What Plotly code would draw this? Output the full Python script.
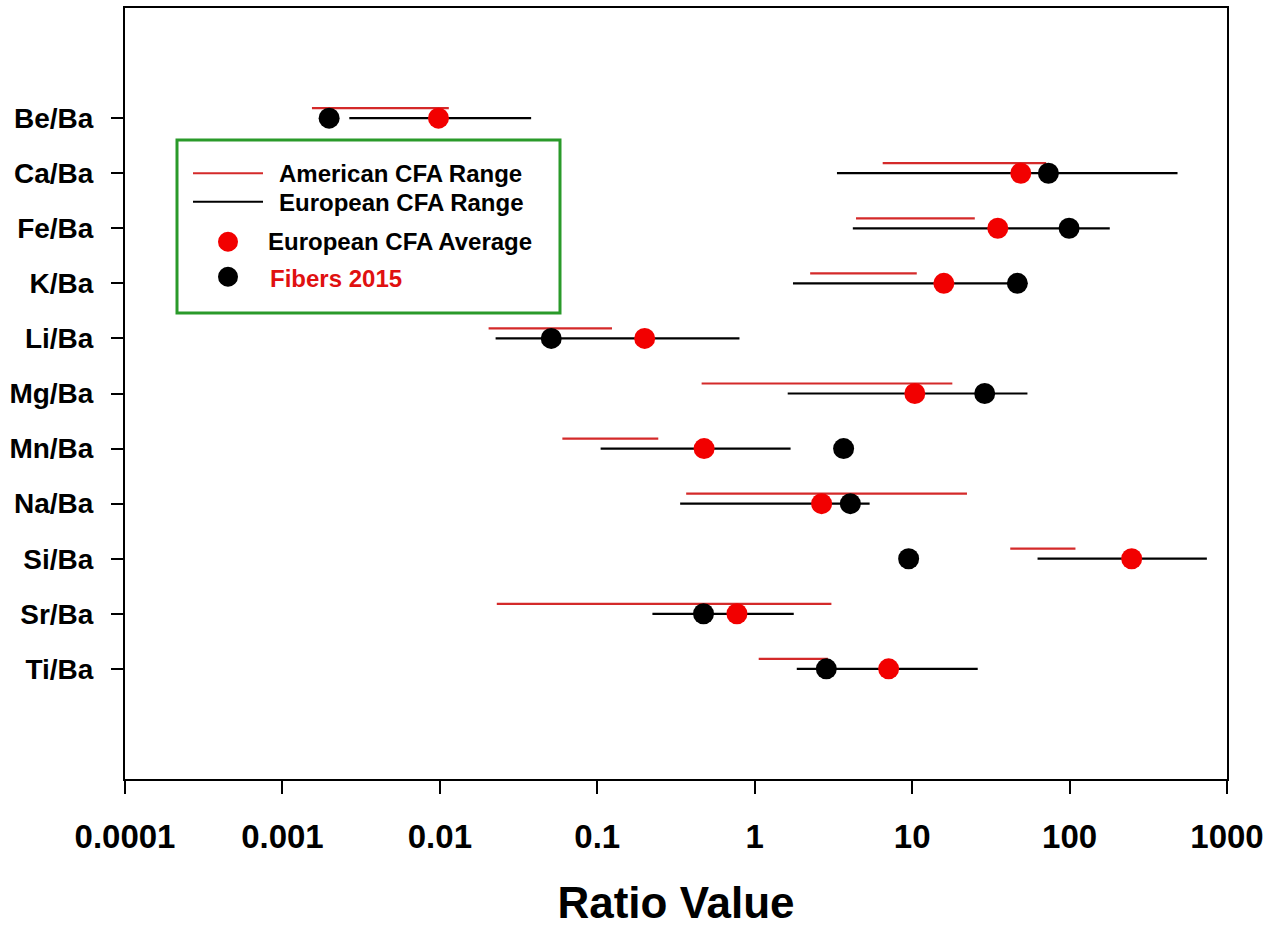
import plotly.graph_objects as go

# ---------------- data ----------------
categories = ["Be/Ba", "Ca/Ba", "Fe/Ba", "K/Ba", "Li/Ba", "Mg/Ba",
              "Mn/Ba", "Na/Ba", "Si/Ba", "Sr/Ba", "Ti/Ba"]

american_min = [0.00154, 6.5, 4.4, 2.25, 0.0204, 0.46, 0.060, 0.367, 42.0, 0.023, 1.06]
american_max = [0.0114, 71.0, 25.0, 10.7, 0.124, 18.0, 0.244, 22.3, 109.0, 3.07, 2.92]
european_min = [0.00266, 3.33, 4.2, 1.75, 0.0226, 1.62, 0.105, 0.336, 62.6, 0.224, 1.85]
european_max = [0.038, 485.0, 180.0, 46.6, 0.80, 54.0, 1.69, 5.37, 745.0, 1.77, 26.1]
european_avg = [0.0098, 49.0, 35.0, 15.9, 0.20, 10.4, 0.477, 2.66, 248.0, 0.771, 7.09]
fibers_2015 = [0.00198, 73.4, 99.3, 46.6, 0.051, 28.9, 3.67, 4.05, 9.5, 0.473, 2.85]

x_tick_values = [0.0001, 0.001, 0.01, 0.1, 1, 10, 100, 1000]
x_tick_labels = ["0.0001", "0.001", "0.01", "0.1", "1", "10", "100", "1000"]

legend_labels = ["American CFA Range", "European CFA Range",
                 "European CFA Average", "Fibers 2015"]

# ---------------- layout constants ----------------
W, H = 1277, 927
L, R, T, B = 125, 50, 8, 148
PW, PH = W - L - R, H - T - B
FONT = "Liberation Sans, Arial, sans-serif"
RED_LINE = "#d42a2a"
RED_DOT = "#f20000"
GREEN = "#2a9a2a"

ypos = [i + 2 for i in range(len(categories))]
red_offset = 10 / (PH / 14.0)  # American range drawn 10 px above category


def seg(lo, hi, ys, dy=0.0):
    xs, yy = [], []
    for a, b, y in zip(lo, hi, ys):
        xs += [a, b, None]
        yy += [y - dy, y - dy, None]
    return xs, yy


fig = go.Figure()

ax, ay = seg(american_min, american_max, ypos, red_offset)
fig.add_trace(go.Scatter(x=ax, y=ay, mode="lines", name=legend_labels[0],
                         line=dict(color=RED_LINE, width=2.2), showlegend=False))
ex, ey = seg(european_min, european_max, ypos)
fig.add_trace(go.Scatter(x=ex, y=ey, mode="lines", name=legend_labels[1],
                         line=dict(color="black", width=2.2), showlegend=False))
fig.add_trace(go.Scatter(x=european_avg, y=ypos, mode="markers", name=legend_labels[2],
                         marker=dict(color=RED_DOT, size=21, line=dict(width=0)),
                         showlegend=False))
fig.add_trace(go.Scatter(x=fibers_2015, y=ypos, mode="markers", name=legend_labels[3],
                         marker=dict(color="black", size=21, line=dict(width=0)),
                         showlegend=False))


def px_x(p):
    return (p - L) / PW


def px_y(p):
    return (H - B - p) / PH


shapes = []
annotations = []
# legend box
shapes.append(dict(type="rect", xref="paper", yref="paper",
                   x0=px_x(177), x1=px_x(560), y0=px_y(313), y1=px_y(140),
                   line=dict(color=GREEN, width=3), fillcolor="white", layer="above"))
# legend line samples
for yy, col in [(173.3, RED_LINE), (201.7, "black")]:
    shapes.append(dict(type="line", xref="paper", yref="paper",
                       x0=px_x(193), x1=px_x(263), y0=px_y(yy), y1=px_y(yy),
                       line=dict(color=col, width=2), layer="above"))
# legend dot samples
for yy, col in [(241.7, RED_DOT), (276.7, "black")]:
    shapes.append(dict(type="circle", xref="paper", yref="paper",
                       x0=px_x(228 - 10), x1=px_x(228 + 10),
                       y0=px_y(yy + 10), y1=px_y(yy - 10),
                       line=dict(width=0), fillcolor=col, layer="above"))
legend_text = [(legend_labels[0], 277, 173, "black"),
               (legend_labels[1], 277, 202, "black"),
               (legend_labels[2], 266, 241, "black"),
               (legend_labels[3], 268, 278, "#e01010")]
for txt, xx, yy, col in legend_text:
    annotations.append(dict(text="<b>%s</b>" % txt, xref="paper", yref="paper",
                            x=px_x(xx), y=px_y(yy), xanchor="left", yanchor="middle",
                            showarrow=False,
                            font=dict(family=FONT, size=24, color=col)))

fig.update_layout(
    width=W, height=H,
    margin=dict(l=L, r=R, t=T, b=B),
    paper_bgcolor="white", plot_bgcolor="white",
    showlegend=False,
    shapes=shapes, annotations=annotations,
    font=dict(family=FONT, color="black"),
)

fig.update_xaxes(
    type="log", range=[-4, 3],
    tickvals=x_tick_values,
    ticktext=["<b>%s</b>" % t for t in x_tick_labels],
    tickfont=dict(family=FONT, size=33, color="black"),
    ticks="outside", ticklen=13, tickwidth=2, tickcolor="black",
    showline=True, linewidth=2, linecolor="black", mirror=True,
    showgrid=False, zeroline=False, automargin=False,
    ticklabelstandoff=14,
    title=dict(text="<b>Ratio Value</b>",
               font=dict(family=FONT, size=44, color="black"), standoff=39),
)
fig.update_yaxes(
    range=[14, 0],
    tickvals=ypos,
    ticktext=["<b>%s</b>" % c for c in categories],
    tickfont=dict(family=FONT, size=28, color="black"),
    ticks="outside", ticklen=12, tickwidth=2, tickcolor="black",
    showline=True, linewidth=2, linecolor="black", mirror=True,
    showgrid=False, zeroline=False, automargin=False,
    ticklabelstandoff=12,
)

fig.write_html("out.html", config={"displayModeBar": False},
               post_script="document.body.style.margin='0';")
